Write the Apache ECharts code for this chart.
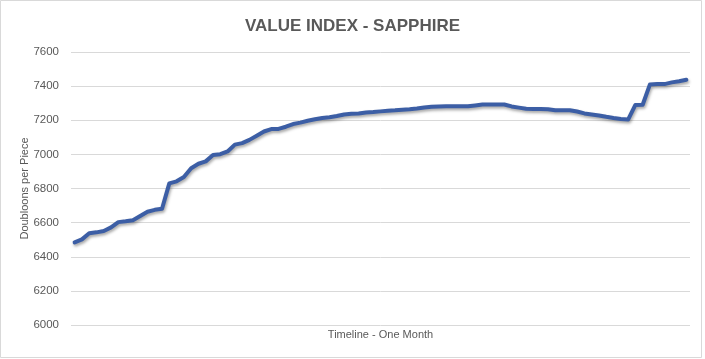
<!DOCTYPE html>
<html>
<head>
<meta charset="utf-8">
<script src="https://cdn.jsdelivr.net/npm/echarts@6/dist/echarts.min.js"></script>
<style>
html,body{margin:0;padding:0;background:#fff;}
#c{width:705px;height:359px;}
</style>
</head>
<body>
<div id="c"></div>
<script>
const titleText = 'VALUE INDEX - SAPPHIRE';
const yAxisName = 'Doubloons per Piece';
const xAxisName = 'Timeline - One Month';
const yTicks = [6000, 6200, 6400, 6600, 6800, 7000, 7200, 7400, 7600];
const sapphireValues = [
  6484, 6502, 6538, 6543, 6551, 6572, 6603, 6608, 6614, 6639,
  6664, 6675, 6681, 6830, 6842, 6867, 6919, 6945, 6959, 6996,
  7001, 7017, 7057, 7066, 7085, 7109, 7134, 7148, 7149, 7162,
  7178, 7186, 7197, 7206, 7213, 7218, 7225, 7234, 7238, 7240,
  7245, 7248, 7252, 7256, 7258, 7261, 7264, 7269, 7275, 7279,
  7281, 7282, 7282, 7282, 7282, 7287, 7292, 7292, 7292, 7292,
  7281, 7274, 7267, 7266, 7266, 7265, 7259, 7259, 7259, 7251,
  7240, 7234, 7228, 7220, 7213, 7207, 7204, 7290, 7291, 7410,
  7412, 7412, 7422, 7429, 7437
];
const days = sapphireValues.map((_, i) => String(i + 1));

const chart = echarts.init(document.getElementById('c'), null, {renderer: 'canvas'});
chart.setOption({
  animation: false,
  backgroundColor: '#ffffff',
  title: {
    text: titleText,
    left: 'center',
    top: 13,
    textStyle: {
      fontFamily: 'Liberation Sans',
      fontWeight: 'bold',
      fontSize: 17,
      color: '#595959'
    }
  },
  graphic: [{
    type: 'rect',
    shape: {x: 0.5, y: 0.5, width: 701, height: 357},
    style: {fill: 'none', stroke: '#D9D9D9', lineWidth: 1},
    silent: true
  }],
  grid: {left: 71, right: 15, top: 52, bottom: 34},
  xAxis: {
    type: 'category',
    data: days,
    boundaryGap: true,
    axisLine: {show: false},
    axisTick: {show: false},
    axisLabel: {show: false},
    splitLine: {show: false},
    name: xAxisName,
    nameLocation: 'middle',
    nameGap: 4,
    nameMoveOverlap: false,
    nameTextStyle: {fontFamily: 'Liberation Sans', fontSize: 11, color: '#595959', verticalAlign: 'top'}
  },
  yAxis: {
    type: 'value',
    min: yTicks[0],
    max: yTicks[yTicks.length - 1],
    interval: yTicks[1] - yTicks[0],
    axisLine: {show: false},
    axisTick: {show: false},
    axisLabel: {
      fontFamily: 'Liberation Sans', fontSize: 11.5, color: '#595959', margin: 12,
      formatter: v => String(v)
    },
    splitLine: {lineStyle: {color: '#D9D9D9', width: 1}},
    name: yAxisName,
    nameLocation: 'middle',
    nameGap: 41,
    nameRotate: 90,
    nameMoveOverlap: false,
    nameTextStyle: {fontFamily: 'Liberation Sans', fontSize: 11, color: '#595959'}
  },
  series: [{
    type: 'line',
    data: sapphireValues,
    showSymbol: false,
    symbol: 'none',
    lineStyle: {
      color: '#3C5EA5',
      width: 4,
      cap: 'round',
      join: 'round',
      shadowColor: 'rgba(0,0,0,0.35)',
      shadowBlur: 3,
      shadowOffsetX: 1,
      shadowOffsetY: 2
    }
  }]
});
</script>
</body>
</html>
